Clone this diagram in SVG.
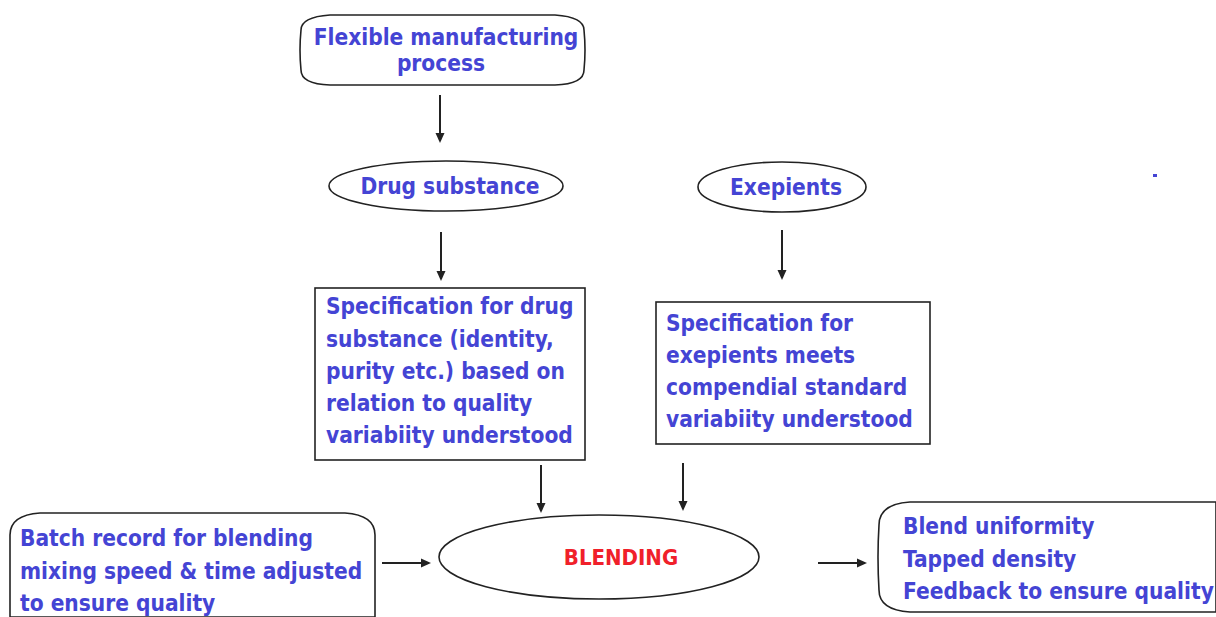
<svg xmlns="http://www.w3.org/2000/svg" width="1216" height="617" viewBox="0 0 1216 617">
<style>
.t{font-family:"DejaVu Sans Condensed","DejaVu Sans",sans-serif;font-weight:bold;font-size:22.5px;fill:#4444d4}
.r{font-family:"DejaVu Sans Condensed","DejaVu Sans",sans-serif;font-weight:bold;font-size:22px;fill:#f0202a}
.s{fill:#fff;stroke:#222;stroke-width:1.6}
.c{stroke:#222;stroke-width:2;fill:none;marker-end:url(#a)}
</style>
<defs>
<marker id="a" markerWidth="10" markerHeight="10" refX="8" refY="5" orient="auto" markerUnits="userSpaceOnUse">
<path d="M0,0.5 L10,5 L0,9.5 Z" fill="#222"/>
</marker>
</defs>
<rect width="1216" height="617" fill="#fff"/>
<g id="connectors">
<line class="c" x1="440" y1="95" x2="440" y2="141"/>
<line class="c" x1="441" y1="232" x2="441" y2="279"/>
<line class="c" x1="782" y1="230" x2="782" y2="278"/>
<line class="c" x1="541" y1="465" x2="541" y2="511"/>
<line class="c" x1="683" y1="463" x2="683" y2="509"/>
<line class="c" x1="382" y1="563" x2="429" y2="563"/>
<line class="c" x1="818" y1="563" x2="865" y2="563"/>
</g>
<g id="flexible">
<path class="s" d="M330,15 L555,15 Q584,17 584,30 Q586,50 584,70 Q584,84 555,85 L330,85 Q301,84 301,70 Q299,50 301,30 Q301,17 330,15 Z"/>
<text class="t" x="446" y="45" text-anchor="middle">Flexible manufacturing</text>
<text class="t" x="441" y="71" text-anchor="middle">process</text>
</g>
<g id="drug">
<ellipse class="s" cx="446" cy="186" rx="117" ry="25"/>
<text class="t" x="450" y="194" text-anchor="middle">Drug substance</text>
</g>
<g id="exepients">
<ellipse class="s" cx="782" cy="187" rx="84" ry="25"/>
<text class="t" x="786" y="195" text-anchor="middle">Exepients</text>
</g>
<g id="specdrug">
<rect class="s" x="315" y="288" width="270" height="172"/>
<text class="t" x="326" y="314">Specification for drug</text>
<text class="t" x="326" y="347">substance (identity,</text>
<text class="t" x="326" y="379">purity etc.) based on</text>
<text class="t" x="326" y="411">relation to quality</text>
<text class="t" x="326" y="443">variabiity understood</text>
</g>
<g id="specexc">
<rect class="s" x="656" y="302" width="274" height="142"/>
<text class="t" x="666" y="331">Specification for</text>
<text class="t" x="666" y="363">exepients meets</text>
<text class="t" x="666" y="395">compendial standard</text>
<text class="t" x="666" y="427">variabiity understood</text>
</g>
<g id="blending">
<ellipse class="s" cx="599" cy="557" rx="160" ry="42"/>
<text class="r" x="621" y="565" text-anchor="middle">BLENDING</text>
</g>
<g id="batch">
<path class="s" d="M40,513 L345,513 Q375,515 375,535 L375,617 L10,617 L10,535 Q10,515 40,513 Z"/>
<text class="t" x="20" y="546">Batch record for blending</text>
<text class="t" x="20" y="579">mixing speed &amp; time adjusted</text>
<text class="t" x="20" y="611">to ensure quality</text>
</g>
<g id="results">
<path class="s" d="M910,502 L1216,502 L1216,612 L910,612 Q879,610 879,590 Q877,557 879,525 Q879,504 910,502 Z"/>
<text class="t" x="903" y="534">Blend uniformity</text>
<text class="t" x="903" y="567">Tapped density</text>
<text class="t" x="903" y="599">Feedback to ensure quality</text>
</g>
<rect x="1153" y="174" width="4" height="3" fill="#4444d4"/>
</svg>
